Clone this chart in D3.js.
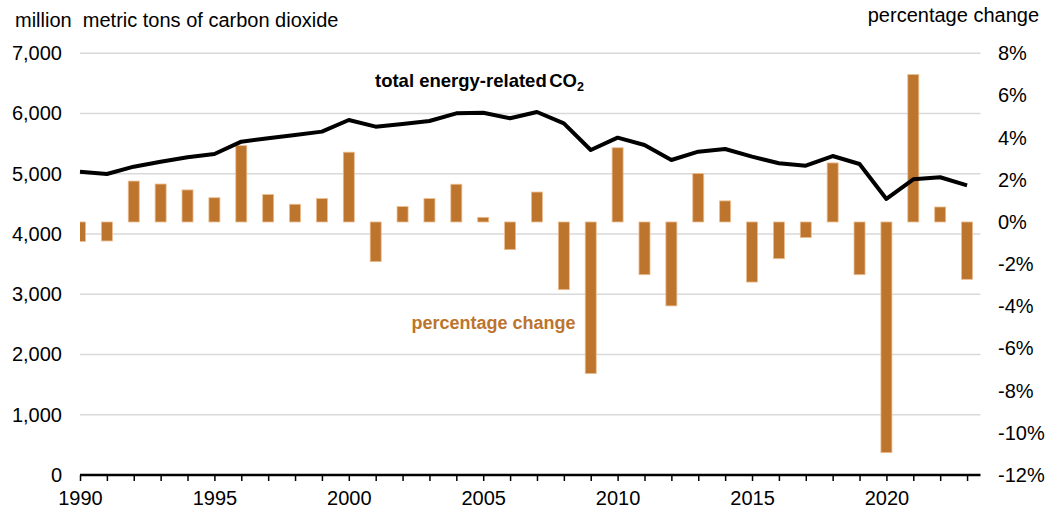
<!DOCTYPE html>
<html><head><meta charset="utf-8">
<script src="https://cdn.jsdelivr.net/npm/d3@7"></script>
<style>
body{margin:0;background:#fff;}
svg{display:block;font-family:"Liberation Sans",Arial,sans-serif;}
</style></head>
<body><svg id="c" width="1050" height="512"></svg>
<script>
const years = d3.range(1990, 2024);
const co2Total = [5035,4997,5118,5201,5274,5328,5533,5589,5644,5700,5893,5782,5827,5876,6004,6014,5921,6026,5838,5395,5600,5478,5229,5367,5412,5284,5174,5135,5295,5163,4582,4908,4942,4809];
const pctChange = [-0.92,-0.9,1.94,1.8,1.52,1.15,3.62,1.3,0.84,1.11,3.31,-1.88,0.73,1.11,1.79,0.22,-1.31,1.42,-3.21,-7.19,3.52,-2.5,-3.98,2.3,1.0,-2.85,-1.74,-0.74,2.8,-2.5,-10.94,6.99,0.71,-2.72];
const leftTicks = [0,1000,2000,3000,4000,5000,6000,7000];
const rightTicks = [-12,-10,-8,-6,-4,-2,0,2,4,6,8];
const xLabelYears = [1990,1995,2000,2005,2010,2015,2020];

const svg = d3.select("#c");
const x = d3.scaleLinear().domain([1990, 2023.5]).range([80, 980.5]);
const yL = d3.scaleLinear().domain([0, 7000]).range([475, 53.3]);
const yR = d3.scaleLinear().domain([-12, 8]).range([475, 53.3]);
const FS = 20;

// gridlines
svg.append("g").selectAll("line").data(leftTicks.filter(d => d > 0)).join("line")
  .attr("x1", x(1990)).attr("x2", x(2023.5))
  .attr("y1", d => yL(d)).attr("y2", d => yL(d))
  .attr("stroke", "#d9d9d9").attr("stroke-width", 1.5);

// clip
svg.append("clipPath").attr("id", "clip").append("rect")
  .attr("x", x(1990)).attr("y", 0).attr("width", x(2023.5) - x(1990)).attr("height", 512);

const bw = 11;
svg.append("g").attr("clip-path", "url(#clip)").selectAll("rect")
  .data(years.map((y, i) => ({y, v: pctChange[i]}))).join("rect")
  .attr("x", d => x(d.y) - bw / 2).attr("width", bw)
  .attr("y", d => yR(Math.max(0, d.v)))
  .attr("height", d => Math.abs(yR(d.v) - yR(0)))
  .attr("fill", "#bd742d").attr("stroke", "#ebbd90").attr("stroke-width", 0.8);

// line
const line = d3.line().x((d, i) => x(years[i])).y(d => yL(d));
svg.append("path").datum(co2Total).attr("d", line)
  .attr("fill", "none").attr("stroke", "#000").attr("stroke-width", 4).attr("stroke-linejoin", "round");

// x axis
const xa = svg.append("g").attr("transform", `translate(0,${yL(0)})`)
  .call(d3.axisBottom(x).tickValues(years).tickSize(6).tickSizeOuter(0)
    .tickFormat(d => xLabelYears.includes(d) ? String(d) : ""));
xa.select(".domain").attr("stroke", "#000").attr("stroke-width", 2.5)
  .attr("d", `M${x(1990)},0H${x(2023.5)}`);
xa.selectAll(".tick line").attr("stroke", "#000").attr("stroke-width", 1.5);
xa.selectAll(".tick text").attr("font-size", FS).attr("font-family", "Liberation Sans, Arial").attr("fill", "#000").attr("dy", "0").attr("y", 30);

// left axis
const la = svg.append("g").attr("transform", "translate(62,0)")
  .call(d3.axisLeft(yL).tickValues(leftTicks).tickSize(0).tickPadding(0).tickFormat(d3.format(",")));
la.select(".domain").remove();
la.selectAll("text").attr("font-size", FS).attr("font-family", "Liberation Sans, Arial").attr("fill", "#000");

// right axis
const ra = svg.append("g").attr("transform", "translate(998,0)")
  .call(d3.axisRight(yR).tickValues(rightTicks).tickSize(0).tickPadding(0).tickFormat(d => d + "%"));
ra.select(".domain").remove();
ra.selectAll("text").attr("font-size", FS).attr("font-family", "Liberation Sans, Arial").attr("fill", "#000");

// titles
svg.append("text").attr("x", 15).attr("y", 26.5).attr("font-size", FS).attr("fill", "#000")
  .attr("xml:space", "preserve").text("million  metric tons of carbon dioxide");
svg.append("text").attr("x", 1039).attr("y", 21.5).attr("font-size", FS).attr("fill", "#000")
  .attr("text-anchor", "end").text("percentage change");

const t1 = svg.append("text").attr("x", 375).attr("y", 86.5).attr("font-size", 18.5).attr("font-weight", "bold").attr("fill", "#000");
t1.append("tspan").text("total energy-related");
t1.append("tspan").attr("dx", 2.5).text("CO");
t1.append("tspan").attr("font-size", 12.5).attr("dy", 4).text("2");

svg.append("text").attr("x", 411.5).attr("y", 328.5).attr("font-size", 18).attr("font-weight", "bold")
  .attr("fill", "#bd742d").text("percentage change");
</script></body></html>
